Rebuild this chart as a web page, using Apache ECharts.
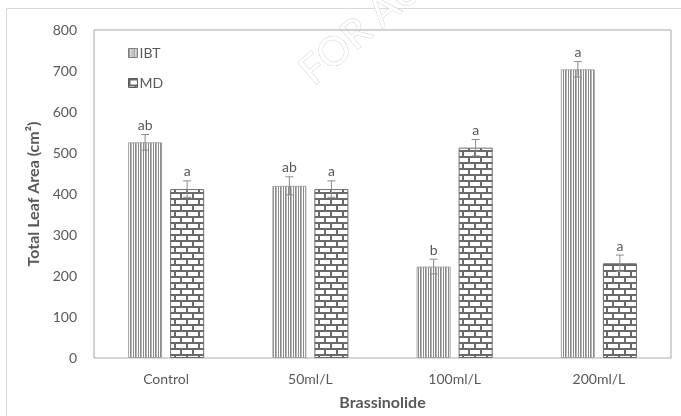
<!DOCTYPE html>
<html>
<head>
<meta charset="utf-8">
<script src="https://cdn.jsdelivr.net/npm/echarts@6/dist/echarts.min.js"></script>
<style>html,body{margin:0;padding:0;background:#fff}#c{width:681px;height:416px}</style>
</head>
<body>
<div id="c"></div>
<script>
const categories = ['Control', '50ml/L', '100ml/L', '200ml/L'];
const ibtValues = [526, 420, 223, 704];
const mdValues = [412, 412, 513, 231];
const ibtErrors = [19, 22, 18, 19];
const mdErrors = [20, 20, 20, 20];
const ibtLetters = ['ab', 'ab', 'b', 'a'];
const mdLetters = ['a', 'a', 'a', 'a'];
const yTicks = [0, 100, 200, 300, 400, 500, 600, 700, 800];

const FONT = 'Lato, "Liberation Sans", sans-serif';
const TXT = '#595959';

function stripeCanvas() {
  const c = document.createElement('canvas');
  c.width = 10; c.height = 10;
  const g = c.getContext('2d');
  g.fillStyle = '#ffffff'; g.fillRect(0, 0, 10, 10);
  g.fillStyle = '#8a8a8a';
  [0, 3, 5, 8].forEach(x => g.fillRect(x, 0, 1, 10));
  g.fillStyle = '#b5b5b5';
  [1, 6].forEach(x => g.fillRect(x, 0, 1, 10));
  return c;
}
function brickCanvas() {
  const c = document.createElement('canvas');
  c.width = 12; c.height = 12;
  const g = c.getContext('2d');
  g.fillStyle = '#ffffff'; g.fillRect(0, 0, 12, 12);
  g.fillStyle = '#6a6a6a';
  g.fillRect(0, 0, 12, 2);
  g.fillRect(0, 6, 12, 2);
  g.fillRect(0, 0, 2, 6);
  g.fillRect(6, 6, 2, 6);
  return c;
}
const stripePat = { image: stripeCanvas(), repeat: 'repeat' };
const brickPat = { image: brickCanvas(), repeat: 'repeat' };

const chart = echarts.init(document.getElementById('c'), null, { renderer: 'canvas' });

function errSeries(vals, errs, letters, sign) {
  return {
    type: 'custom',
    z: 5,
    data: vals.map((v, i) => [i, v, errs[i]]),
    renderItem: function (params, api) {
      const i = api.value(0), v = api.value(1), e = api.value(2);
      const band = api.size([1, 0])[0];
      const off = sign * band * 0.1456;
      const c = api.coord([i, v]);
      const x = c[0] + off;
      const yt = api.coord([i, v + e])[1];
      const yb = api.coord([i, v - e])[1];
      const cap = 4;
      const st = { stroke: '#8c8c8c', lineWidth: 1 };
      return {
        type: 'group',
        children: [
          { type: 'line', shape: { x1: x, y1: yt, x2: x, y2: yb }, style: st },
          { type: 'line', shape: { x1: x - cap, y1: yt, x2: x + cap, y2: yt }, style: st },
          { type: 'line', shape: { x1: x - cap, y1: yb, x2: x + cap, y2: yb }, style: st },
          { type: 'text', x: x, y: yt - 2, style: { text: letters[i], fill: TXT, font: '14px ' + FONT, align: 'center', verticalAlign: 'bottom' } }
        ]
      };
    }
  };
}

chart.setOption({
  animation: false,
  backgroundColor: '#fff',
  grid: { left: 94, right: 10, top: 30, bottom: 56, show: true, borderColor: '#a6a6a6', borderWidth: 1 },
  legend: {
    orient: 'vertical', left: 123, top: 41, itemWidth: 9, itemHeight: 9, itemGap: 16,
    textStyle: { color: TXT, fontSize: 14, fontFamily: FONT, padding: [0, 0, 0, -3] },
    data: [
      { name: 'IBT', icon: 'rect', itemStyle: { color: stripePat, borderColor: '#7f7f7f', borderWidth: 1 } },
      { name: 'MD', icon: 'rect', itemStyle: { color: brickPat, borderColor: '#595959', borderWidth: 1 } }
    ]
  },
  xAxis: {
    type: 'category', data: categories,
    name: 'Brassinolide', nameLocation: 'middle', nameGap: 37,
    nameTextStyle: { color: TXT, fontSize: 16, fontWeight: 'bold', fontFamily: FONT },
    axisLine: { lineStyle: { color: '#d9d9d9' } },
    axisTick: { show: false },
    axisLabel: { color: TXT, fontSize: 14, fontFamily: FONT, margin: 14 }
  },
  yAxis: {
    type: 'value', min: 0, max: 800, interval: 100,
    name: 'Total Leaf Area (cm²)', nameLocation: 'middle', nameGap: 52,
    nameTextStyle: { color: TXT, fontSize: 16, fontWeight: 'bold', fontFamily: FONT },
    axisLine: { show: false }, axisTick: { show: false },
    splitLine: { show: false },
    axisLabel: { color: TXT, fontSize: 14, fontFamily: FONT, margin: 17,
      formatter: v => yTicks.indexOf(v) >= 0 ? String(v) : '' }
  },
  graphic: [
    { type: 'rect', z: -10, shape: { x: 6.5, y: 8.5, width: 800, height: 600 }, style: { fill: 'none', stroke: '#d9d9d9', lineWidth: 1 } },
    { type: 'text', z: -5, x: 318, y: 92, rotation: 0.70,
      style: { text: 'FOR AUTHOR USE ONLY', font: '40px ' + FONT, fill: '#ffffff', stroke: '#c8c8c8', lineWidth: 0.8, align: 'left', verticalAlign: 'bottom' } }
  ],
  series: [
    { name: 'IBT', type: 'bar', data: ibtValues, barWidth: '23.6%', barGap: '23.5%',
      itemStyle: { color: stripePat, borderColor: '#a6a6a6', borderWidth: 1 } },
    { name: 'MD', type: 'bar', data: mdValues, barWidth: '23.6%',
      itemStyle: { color: brickPat, borderColor: '#6a6a6a', borderWidth: 1 } },
    errSeries(ibtValues, ibtErrors, ibtLetters, -1),
    errSeries(mdValues, mdErrors, mdLetters, 1)
  ]
});
</script>
</body>
</html>
